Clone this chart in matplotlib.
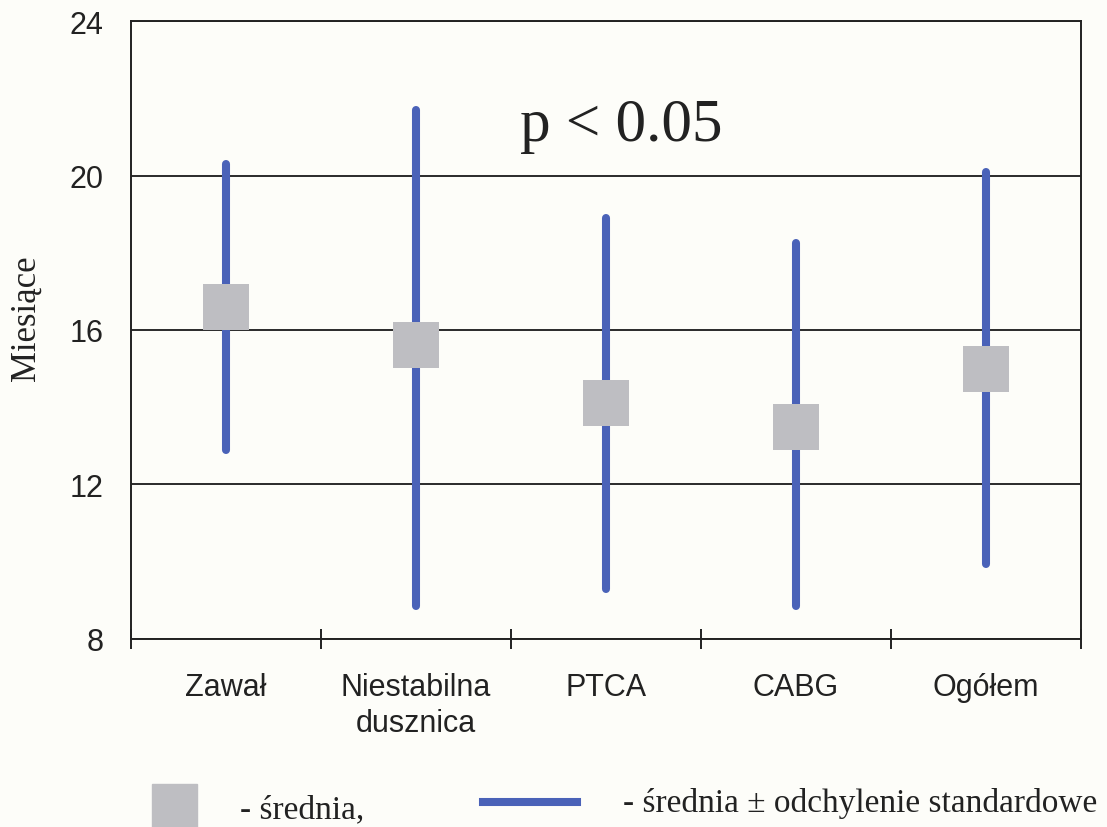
"""
Czas obserwacji (miesiace) w grupach pacjentow: srednia i +/- SD
"""

import matplotlib
matplotlib.use("Agg")
import matplotlib.pyplot as plt
from matplotlib.patches import Rectangle
from matplotlib.lines import Line2D
import numpy as np

# grupy i wartosci (miesiace)
groups = ["Zawał", "Niestabilna\ndusznica", "PTCA", "CABG", "Ogółem"]
means = [16.6, 15.6, 14.1, 13.5, 15.0]
lower = [12.9, 8.85, 9.3, 8.85, 9.95]
upper = [20.3, 21.7, 18.9, 18.25, 20.1]
yticks = [8, 12, 16, 20, 24]

blue = "#4A62B8"
grey = "#BEBEC2"
paper = "#FDFDF9"
sans = "Liberation Sans"
serif = "Liberation Serif"

fig = plt.figure(figsize=(11.07, 8.28), dpi=100, facecolor=paper)
ax = fig.add_axes([0.1183, 0.2271, 0.8583, 0.7463])
ax.set_facecolor(paper)

x = np.arange(len(groups))

# odcinki srednia +/- odchylenie
for xi, lo, hi in zip(x, lower, upper):
    ax.plot([xi, xi], [lo, hi], color=blue, lw=5.8,
            solid_capstyle="round", zorder=3)

# srednie jako kwadraty
ax.plot(x, means, ls="none", marker="s", markersize=32.5,
        color=grey, markeredgewidth=0, zorder=4)

ax.set_xlim(-0.5, len(groups) - 0.5)
ax.set_ylim(8, 24)
ax.set_yticks(yticks)
ax.set_yticklabels([str(v) for v in yticks], fontsize=22, family=sans,
                   color="#222222")
ax.tick_params(axis="y", length=0, pad=20)

# etykiety grup na srodkach, kreski na granicach
ax.set_xticks(x)
ax.set_xticklabels(groups, fontsize=22, family=sans, color="#222222",
                   linespacing=1.25)
ax.tick_params(axis="x", which="major", length=0, pad=24)
ax.set_xticks(np.arange(-0.5, len(groups)), minor=True)
ax.tick_params(axis="x", which="minor", length=15, width=1.4,
               direction="inout", color="#222222")

ax.yaxis.grid(True, color="#2a2a2a", lw=1.4, zorder=1)
ax.set_axisbelow(True)
for sp in ax.spines.values():
    sp.set_color("#222222")
    sp.set_linewidth(1.4)

ax.set_ylabel("Miesiące", fontsize=25, family=serif, color="#222222",
              labelpad=19)
ax.yaxis.label.set_y(0.52)

ax.text(2.08, 21.3, "p < 0.05", fontsize=44, family=serif,
        ha="center", va="center", color="#222222")

# legenda pod wykresem
fig.patches.append(Rectangle((152 / 1107, 0), 45 / 1107, 43 / 828,
                             transform=fig.transFigure, color=grey,
                             zorder=2))
fig.text(240 / 1107, 1 - 810 / 828, "- średnia,", fontsize=24,
         family=serif, va="center", color="#222222")
fig.lines.append(Line2D([483 / 1107, 577 / 1107], [1 - 803 / 828] * 2,
                        transform=fig.transFigure, color=blue, lw=5.8))
fig.text(623 / 1107, 1 - 804 / 828,
         "- średnia ± odchylenie standardowe", fontsize=24,
         family=serif, va="center", color="#222222")

fig.savefig("out.png", dpi=100, facecolor=paper)
